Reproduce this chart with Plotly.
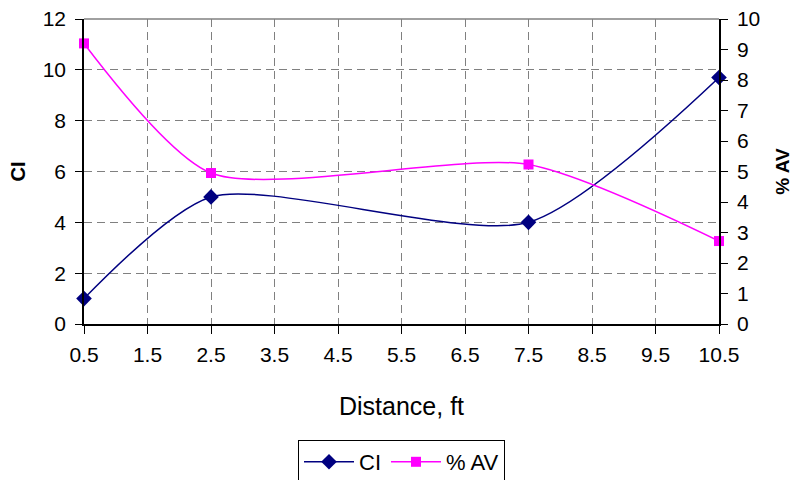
import plotly.graph_objects as go

distance = [0.5, 2.5, 7.5, 10.5]
ci = [1.0, 5.0, 4.0, 9.7]
av = [9.2, 4.95, 5.23, 2.72]
x_ticks = [0.5, 1.5, 2.5, 3.5, 4.5, 5.5, 6.5, 7.5, 8.5, 9.5, 10.5]

FONT = "Liberation Sans, Arial, sans-serif"

fig = go.Figure()
fig.add_trace(go.Scatter(
    x=distance, y=ci, name="CI", mode="lines+markers",
    line=dict(color="#000080", width=1.5, shape="spline", smoothing=0.7),
    marker=dict(symbol="diamond", size=12, color="#000080"),
    yaxis="y", cliponaxis=False))
fig.add_trace(go.Scatter(
    x=distance, y=av, name="% AV", mode="lines+markers",
    line=dict(color="#FF00FF", width=1.5, shape="spline", smoothing=0.7),
    marker=dict(symbol="square", size=10, color="#FF00FF"),
    yaxis="y2", cliponaxis=False))

grid = dict(showgrid=True, gridcolor="#808080", griddash="8px,5px", gridwidth=1)
fig.update_layout(
    width=793, height=480,
    paper_bgcolor="white", plot_bgcolor="white",
    margin=dict(l=84, r=74, t=19, b=156),
    font=dict(family=FONT, size=21, color="black"),
    xaxis=dict(range=[0.5, 10.5], tickvals=x_ticks, ticktext=[str(t) for t in x_ticks],
               ticks="outside", ticklen=8, tickcolor="black", automargin=False,
               ticklabelstandoff=3,
               showline=True, linecolor="black", linewidth=1.5, mirror=False,
               title=dict(text="Distance, ft", font=dict(size=25), standoff=33),
               zeroline=False, **grid),
    yaxis=dict(range=[0, 12], dtick=2, ticks="outside", ticklen=7, tickcolor="black",
               automargin=False, ticklabelstandoff=5,
               showline=True, linecolor="black", linewidth=1.5, zeroline=False,
               title=dict(text="<b>CI</b>", font=dict(size=20), standoff=12), **grid),
    yaxis2=dict(range=[0, 10], dtick=1, overlaying="y", side="right",
                ticks="outside", ticklen=7, tickcolor="black", automargin=False,
                ticklabelstandoff=5,
                showline=True, linecolor="black", linewidth=1.5, zeroline=False,
                showgrid=False,
                title=dict(text="<b>% AV</b>", font=dict(size=19), standoff=18)),
    legend=dict(orientation="h", x=0.5, xanchor="center",
                yref="container", y=1 - 440 / 480, yanchor="top",
                bordercolor="black", borderwidth=1, font=dict(size=22),
                itemwidth=50, tracegroupgap=0),
    showlegend=True,
)
fig.add_shape(type="line", xref="paper", yref="paper", x0=0, x1=1, y0=1, y1=1,
              line=dict(color="#808080", width=1.5))

fig.write_html("out.html", config={"displayModeBar": False})

# remove the default page margin so the figure sits at the window's corner
with open("out.html", "r", encoding="utf-8") as f:
    html = f.read()
html = html.replace("<head>", "<head><style>html,body{margin:0;padding:0;overflow:hidden;}</style>", 1)
with open("out.html", "w", encoding="utf-8") as f:
    f.write(html)
